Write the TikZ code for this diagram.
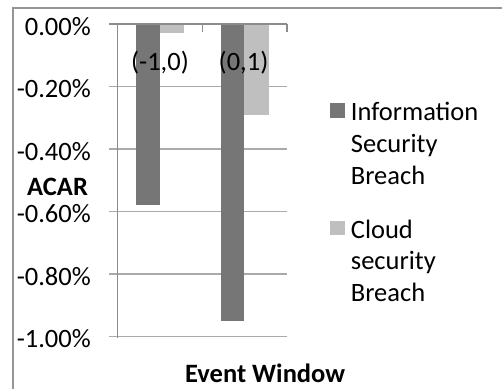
\documentclass[tikz,border=0pt]{standalone}
\usepackage{fontspec}
\setmainfont{Carlito}
\definecolor{darkbar}{RGB}{118,118,118}
\definecolor{lightbar}{RGB}{191,191,191}
\definecolor{gridc}{RGB}{170,170,170}
\definecolor{axisc}{RGB}{140,140,140}
\definecolor{framec}{RGB}{150,150,150}
\tikzset{
  lbl/.style={inner sep=0pt, font=\fontsize{26.5}{30}\selectfont, text=black},
  bold lbl/.style={lbl, font=\fontsize{26.5}{30}\selectfont\bfseries},
  gridline/.style={draw=gridc, line width=1.4pt},
  axisline/.style={draw=axisc, line width=1.4pt},
  framel/.style={draw=framec, line width=1.6pt},
  darkbarf/.style={fill=darkbar},
  lightbarf/.style={fill=lightbar}
}
\begin{document}
\begin{tikzpicture}[x=1pt,y=-1pt]
\useasboundingbox (0,0) rectangle (502,388);
% frame
\coordinate (fbl) at (13,390);
\coordinate (ftl) at (13,8);
\coordinate (ftr) at (504,8);
\draw[framel] (fbl) -- (ftl) -- (ftr);
% gridlines and y labels
\foreach \k/\t in {0/0.00\%,1/-0.20\%,2/-0.40\%,3/-0.60\%,4/-0.80\%,5/-1.00\%}{
  \pgfmathsetmacro{\yy}{24+\k*62.54}
  \coordinate (gl\k) at (109,\yy);
  \coordinate (gr\k) at (287,\yy);
  \draw[gridline] (gl\k) -- (gr\k);
  \node[lbl, anchor=base east] (ylab\k) at (91,\yy+11) {\t};
}
% bars
\fill[darkbarf] (136,24) rectangle (160,205.4);
\fill[lightbarf] (160,24) rectangle (184.3,33.4);
\fill[darkbarf] (220.7,24) rectangle (244.4,321);
\fill[lightbarf] (244.4,24) rectangle (269,114.7);
% axes
\coordinate (ytop) at (117.5,24);
\coordinate (ybot) at (117.5,337.5);
\draw[axisline] (ytop) -- (ybot);
\coordinate (xl) at (109,24);
\coordinate (xr) at (287,24);
\draw[axisline] (xl) -- (xr);
\coordinate (t1a) at (202.3,24);
\coordinate (t1b) at (202.3,32);
\coordinate (t2a) at (287,24);
\coordinate (t2b) at (287,32);
\draw[axisline] (t1a) -- (t1b);
\draw[axisline] (t2a) -- (t2b);
% category labels
\node[lbl, anchor=base] (c1) at (160,70) {(-1,0)};
\node[lbl, anchor=base] (c2) at (243.5,70) {(0,1)};
% axis titles
\node[bold lbl, anchor=base west] (acar) at (27,195) {ACAR};
\node[bold lbl, anchor=base west] (ew) at (185,382.3) {Event Window};
% legend
\fill[darkbarf] (330,103) rectangle (345,117.5);
\fill[lightbarf] (330,220.7) rectangle (345,235);
\node[lbl, anchor=base west] (l1a) at (350.7,120.7) {Information};
\node[lbl, anchor=base west] (l1b) at (350.7,152.5) {Security};
\node[lbl, anchor=base west] (l1c) at (350.7,184) {Breach};
\node[lbl, anchor=base west] (l2a) at (350.7,238.3) {Cloud};
\node[lbl, anchor=base west] (l2b) at (350.7,269.8) {security};
\node[lbl, anchor=base west] (l2c) at (350.7,301.5) {Breach};
\end{tikzpicture}
\end{document}
